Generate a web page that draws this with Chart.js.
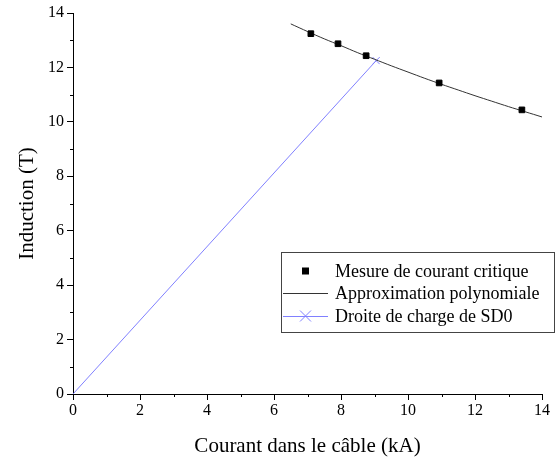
<!DOCTYPE html>
<html><head><meta charset="utf-8">
<script src="https://cdn.jsdelivr.net/npm/chart.js@4"></script>
<style>html,body{margin:0;padding:0;background:#fff}#wrap{width:559px;height:465px}</style>
</head><body><div id="wrap"><canvas id="c" width="559" height="465"></canvas></div>
<script>
const measX = [7.1, 7.91, 8.75, 10.93, 13.4];
const measY = [13.24, 12.87, 12.43, 11.43, 10.44];
const polyX = [6.5, 7, 7.5, 8, 8.5, 9, 9.5, 10, 10.5, 11, 11.5, 12, 12.5, 13, 13.5, 14];
const polyY = [13.6, 13.32, 13.05, 12.8, 12.54, 12.3, 12.06, 11.83, 11.6, 11.38, 11.17, 10.96, 10.76, 10.56, 10.37, 10.18];
const loadX = [0, 9.05];
const loadY = [0, 12.25];
const xTicks = [0, 2, 4, 6, 8, 10, 12, 14];
const yTicks = [0, 2, 4, 6, 8, 10, 12, 14];
const labels = ['Mesure de courant critique', 'Approximation polynomiale', 'Droite de charge de SD0'];
const xTitle = 'Courant dans le câble (kA)';
const yTitle = 'Induction (T)';

const pts = (xs, ys) => xs.map((x, i) => ({x, y: ys[i]}));
const FONT = "'Liberation Serif', 'Times New Roman', serif";

const minorTicks = {
  id: 'minorTicks',
  afterDraw(chart) {
    const ctx = chart.ctx, xs = chart.scales.x, ys = chart.scales.y;
    ctx.save();
    ctx.strokeStyle = '#000'; ctx.lineWidth = 1;
    ctx.beginPath();
    for (let v = 1; v < 14; v += 2) {
      const px = Math.round(xs.getPixelForValue(v)) + 0.5;
      ctx.moveTo(px, xs.top); ctx.lineTo(px, xs.top + 3);
      const py = Math.round(ys.getPixelForValue(v)) + 0.5;
      ctx.moveTo(ys.right, py); ctx.lineTo(ys.right - 3, py);
    }
    ctx.stroke();
    ctx.restore();
  }
};

const boxLegend = {
  id: 'boxLegend',
  afterDraw(chart) {
    const ctx = chart.ctx;
    ctx.save();
    const bx = 281.5, by = 252.5, bw = 273, bh = 80;
    ctx.strokeStyle = '#444'; ctx.lineWidth = 1;
    ctx.strokeRect(bx, by, bw, bh);
    const rows = [271, 293, 316];
    ctx.font = "18px " + FONT;
    ctx.fillStyle = '#000';
    ctx.textBaseline = 'middle';
    ctx.textAlign = 'left';
    rows.forEach((y, i) => ctx.fillText(labels[i], 335, y + 1));
    ctx.fillRect(302, rows[0] - 3.5, 7, 7);
    ctx.strokeStyle = '#333';
    ctx.beginPath(); ctx.moveTo(283, rows[1] + 0.5); ctx.lineTo(328, rows[1] + 0.5); ctx.stroke();
    ctx.strokeStyle = '#8080ff';
    ctx.beginPath(); ctx.moveTo(283, rows[2] + 0.5); ctx.lineTo(328, rows[2] + 0.5);
    ctx.moveTo(300, rows[2] - 5.5); ctx.lineTo(311, rows[2] + 5.5);
    ctx.moveTo(311, rows[2] - 5.5); ctx.lineTo(300, rows[2] + 5.5);
    ctx.stroke();
    ctx.restore();
  }
};

new Chart(document.getElementById('c'), {
  type: 'scatter',
  data: {
    datasets: [
      { label: labels[1], data: pts(polyX, polyY), showLine: true, borderColor: '#333', borderWidth: 1, pointRadius: 0, tension: 0.3, order: 2 },
      { label: labels[2], data: pts(loadX, loadY), showLine: true, borderColor: '#8080ff', borderWidth: 1, pointRadius: [0, 5], pointStyle: 'crossRot', pointBorderColor: '#8080ff', pointBorderWidth: 1, order: 3 },
      { label: labels[0], data: pts(measX, measY), pointStyle: 'rect', pointRadius: 4, backgroundColor: '#000', borderColor: '#000', order: 1 }
    ]
  },
  options: {
    responsive: false, animation: false, devicePixelRatio: 1,
    layout: { padding: { top: 13, right: 17, left: 0, bottom: 0 } },
    plugins: { legend: { display: false }, tooltip: { enabled: false } },
    scales: {
      x: {
        type: 'linear', min: 0, max: 14,
        afterFit(s) { s.height = 71; },
        afterBuildTicks(s) { s.ticks = xTicks.map(v => ({value: v})); },
        border: { color: '#000', width: 1 },
        grid: { drawOnChartArea: false, color: '#000', tickLength: 6 },
        ticks: { color: '#000', font: { family: FONT, size: 16 }, padding: 1, maxRotation: 0 },
        title: { display: true, text: xTitle, color: '#000', font: { family: FONT, size: 21 }, padding: { top: 4, bottom: 6 } }
      },
      y: {
        type: 'linear', min: 0, max: 14,
        afterFit(s) { s.width = 73; },
        afterBuildTicks(s) { s.ticks = yTicks.map(v => ({value: v})); },
        border: { color: '#000', width: 1 },
        grid: { drawOnChartArea: false, color: '#000', tickLength: 6 },
        ticks: { color: '#000', font: { family: FONT, size: 16 }, padding: 3 },
        title: { display: true, text: yTitle, color: '#000', font: { family: FONT, size: 21 }, padding: { bottom: 0, top: 15 } }
      }
    }
  },
  plugins: [minorTicks, boxLegend]
});
</script></body></html>
